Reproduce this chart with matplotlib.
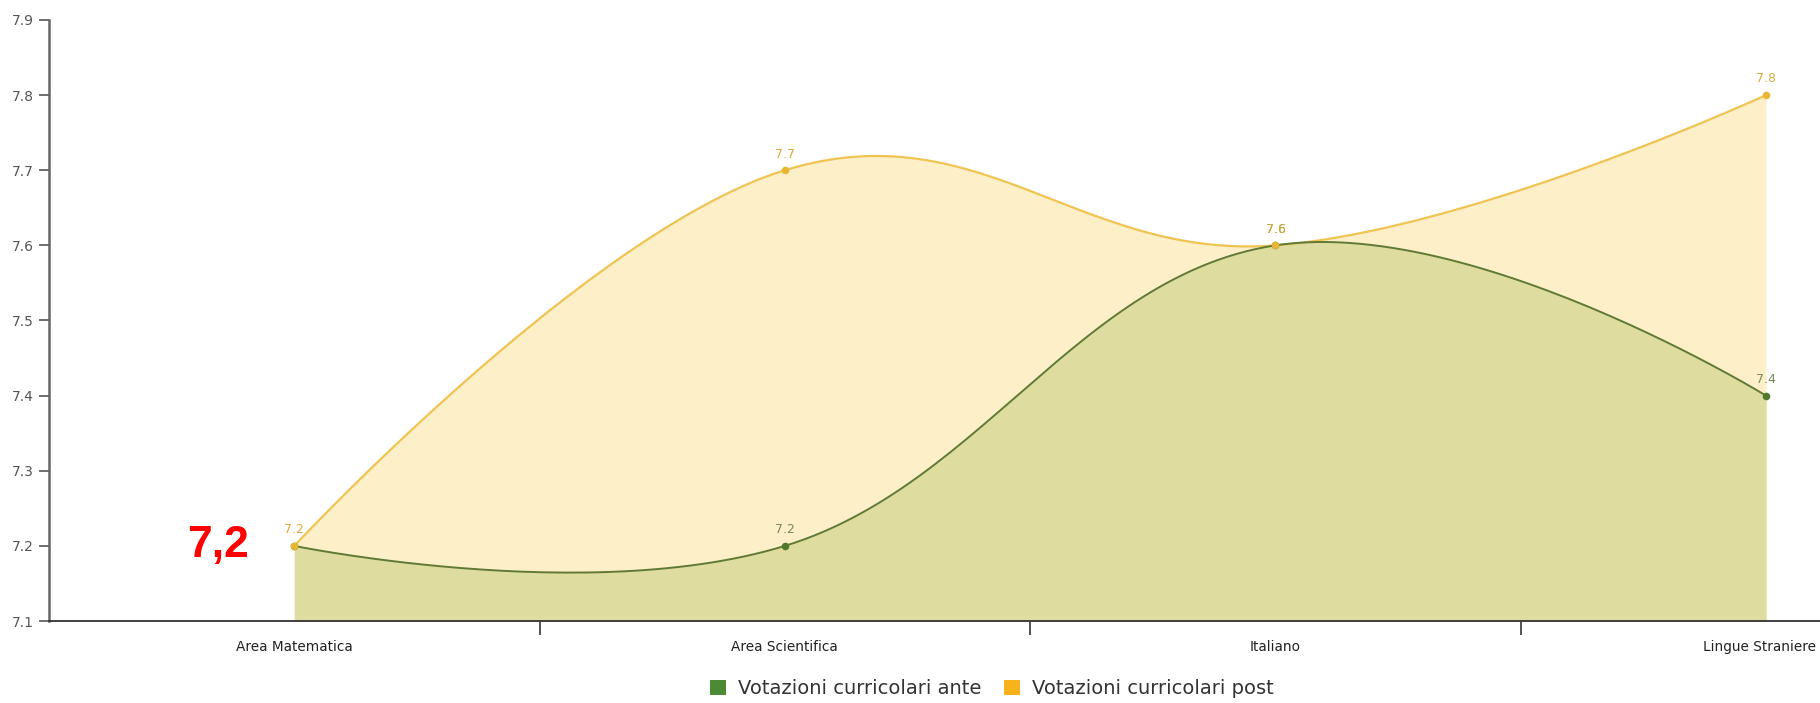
import numpy as np
import matplotlib
matplotlib.use("Agg")
import matplotlib.pyplot as plt
from matplotlib.transforms import ScaledTranslation
from matplotlib.patches import Patch

categories = ["Area Matematica", "Area Scientifica", "Italiano", "Lingue Straniere"]
ante = [7.2, 7.2, 7.6, 7.4]
post = [7.2, 7.7, 7.6, 7.8]
series_names = ["Votazioni curricolari ante", "Votazioni curricolari post"]
y_ticks = [7.1, 7.2, 7.3, 7.4, 7.5, 7.6, 7.7, 7.8, 7.9]
annotation = "7,2"

C_ANTE_LINE = "#5f7a35"
C_ANTE_FILL = "#dfdc9f"
C_ANTE_LEG = "#4d8a35"
C_POST_LINE = "#f0c453"
C_POST_FILL = "#fdefc8"
C_POST_LEG = "#f7b21c"


def spline_path(xs, ys, n=60, smoothing=1.5):
    xs = list(map(float, xs)); ys = list(map(float, ys))
    m = len(xs)
    lc = [(xs[i], ys[i]) for i in range(m)]
    rc = [(xs[i], ys[i]) for i in range(m)]
    d = smoothing + 1
    for i in range(1, m - 1):
        px, py = xs[i], ys[i]
        lx = (smoothing * px + xs[i - 1]) / d
        ly = (smoothing * py + ys[i - 1]) / d
        rx = (smoothing * px + xs[i + 1]) / d
        ry = (smoothing * py + ys[i + 1]) / d
        corr = (ry - ly) * (rx - px) / (rx - lx) + py - ry
        lc[i] = (lx, ly + corr)
        rc[i] = (rx, ry + corr)
    X, Y = [], []
    t = np.linspace(0, 1, n)
    for i in range(m - 1):
        p0 = (xs[i], ys[i]); p1 = rc[i]; p2 = lc[i + 1]; p3 = (xs[i + 1], ys[i + 1])
        bx = (1-t)**3*p0[0] + 3*(1-t)**2*t*p1[0] + 3*(1-t)*t**2*p2[0] + t**3*p3[0]
        by = (1-t)**3*p0[1] + 3*(1-t)**2*t*p1[1] + 3*(1-t)*t**2*p2[1] + t**3*p3[1]
        X.extend(bx if i == 0 else bx[1:]); Y.extend(by if i == 0 else by[1:])
    return np.array(X), np.array(Y)


plt.rcParams['font.family'] = ['DejaVu Sans']

fig = plt.figure(figsize=(18.2, 7.03), dpi=100)
ax = fig.add_axes([0.0269, 0.1166, 0.9731, 0.855])

x = np.arange(len(categories))
base = 7.1

px, py = spline_path(x, post)
ax.fill_between(px, base, py, color=C_POST_FILL, lw=0, zorder=1)
ax.plot(px, py, color=C_POST_LINE, lw=1.6, zorder=3)

axx, ayy = spline_path(x, ante)
ax.fill_between(axx, base, ayy, color=C_ANTE_FILL, lw=0, zorder=2)
ax.plot(axx, ayy, color=C_ANTE_LINE, lw=1.4, zorder=4)

ax.scatter(x, ante, s=30, color="#4f7a2e", zorder=5, lw=0)
ax.scatter(x, post, s=30, color="#e9b634", zorder=6, lw=0)

for xi, v in zip(x, ante):
    if xi == 0:
        continue
    ax.annotate(f"{v:.1f}", (xi, v), xytext=(0, 7), textcoords="offset points",
                ha="center", va="bottom", fontsize=9, color="#7a8a5a", zorder=7)
for xi, v in zip(x, post):
    ax.annotate(f"{v:.1f}", (xi, v), xytext=(0, 7), textcoords="offset points",
                ha="center", va="bottom", fontsize=9, color="#d9ad3c", zorder=7)

ax.set_xlim(-0.5, 3.11)
ax.set_ylim(7.1, 7.9)
ax.set_yticks(y_ticks)
ax.set_yticklabels([f"{v:.1f}" for v in y_ticks], fontsize=10, color="#555555")
ax.tick_params(axis="y", length=7, width=1.2, color="#555555", pad=4)

ax.set_xticks(x)
ax.set_xticklabels(categories, fontsize=9.8, color="#222222")
ax.tick_params(axis="x", which="major", length=0, pad=14)
ax.set_xticks([0.5, 1.5, 2.5], minor=True)
ax.tick_params(axis="x", which="minor", length=10, width=1.3, color="#444444")

for s in ["top", "right"]:
    ax.spines[s].set_visible(False)
ax.spines["left"].set_color("#666666")
ax.spines["left"].set_linewidth(1.8)
ax.spines["bottom"].set_color("#333333")
ax.spines["bottom"].set_linewidth(1.3)

ax.text(-0.155, 7.2, annotation, color="#ff0000", fontsize=32, fontweight="bold",
        family=["Liberation Sans", "DejaVu Sans"], ha="center", va="center", zorder=8)

handles = [Patch(facecolor=C_ANTE_LEG, edgecolor="none"),
           Patch(facecolor=C_POST_LEG, edgecolor="none")]
fig.legend(handles, series_names, loc="center", bbox_to_anchor=(0.545, 0.02),
           ncol=2, frameon=False, fontsize=14, handlelength=0.8, handleheight=0.8,
           handletextpad=0.6, columnspacing=1.2, labelcolor="#333333")

# keep the last category label inside the figure (shift left if it overflows)
fig.canvas.draw()
renderer = fig.canvas.get_renderer()
W = fig.bbox.width
for lab in ax.get_xticklabels():
    bb = lab.get_window_extent(renderer)
    if bb.x1 > W - 4:
        dx = (bb.x1 - (W - 4)) / fig.dpi
        lab.set_transform(lab.get_transform() + ScaledTranslation(-dx, 0, fig.dpi_scale_trans))

fig.savefig("out.png", dpi=100)
